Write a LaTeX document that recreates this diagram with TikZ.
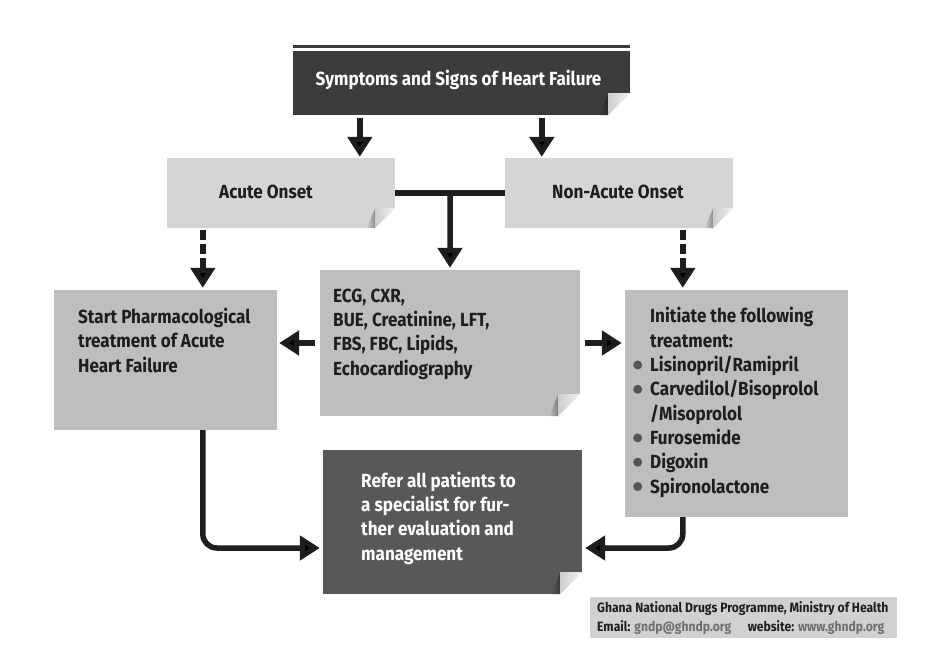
\documentclass[tikz,border=0pt]{standalone}
\usepackage{fontspec}
\setmainfont{Fira Sans}[FakeStretch=0.9]
\usetikzlibrary{arrows.meta, calc}
\definecolor{titlegray}{RGB}{60, 60, 60}
\definecolor{onsetgray}{RGB}{213, 213, 214}
\definecolor{boxgray}{RGB}{190, 190, 191}
\definecolor{refergray}{RGB}{88, 88, 90}
\definecolor{footgray}{RGB}{209, 209, 209}
\definecolor{inkblack}{RGB}{30, 30, 30}
\definecolor{mailgray}{RGB}{110, 110, 110}
\definecolor{dotgray}{RGB}{85, 85, 85}
\definecolor{curllight}{RGB}{242, 242, 242}
\definecolor{curlmid}{RGB}{205, 205, 205}

% folded corner at the bottom right of a box
\newcommand{\pagecurl}[3]{%
  \fill[white] ([xshift=-#2]#1.south east) rectangle ([yshift=#2]#1.south east);
  \shade[left color=#3, right color=#3!65!black]
    ([xshift=-#2-9pt]#1.south east) -- ([xshift=-#2,yshift=#2]#1.south east) -- ([xshift=-#2]#1.south east) -- cycle;
  \shade[left color=curlmid, right color=curllight]
    ([xshift=-#2,yshift=#2]#1.south east) -- ([yshift=#2]#1.south east) -- ([xshift=-#2]#1.south east) -- cycle;
}
\newcommand{\pill}{\llap{\tikz[baseline=-6.5pt]\fill[dotgray] (0,0) circle (4.5pt);\hspace{8pt}}}

\tikzset{
  card/.style={inner sep=0pt, fill=#1},
  txt/.style={font=\bfseries\fontsize{19}{24.3}\selectfont, text=inkblack, align=left, inner sep=0pt},
  whitetxt/.style={txt, text=white},
  flow/.style={line width=5.5pt, draw=inkblack, -{Triangle[width=24pt,length=20pt]}},
  dashflow/.style={flow, dash pattern=on 10pt off 4pt},
  bar/.style={line width=5.5pt, draw=inkblack}
}

\begin{document}
\begin{tikzpicture}[x=1pt, y=-1pt]
  \useasboundingbox (0,0) rectangle (941,666);

  % Title
  \node[card=titlegray, minimum width=337pt, minimum height=64pt] (symptoms) at (461.5,83) {};
  \draw[titlegray, line width=2.5pt] ([yshift=4.5pt]symptoms.north west) -- ([yshift=4.5pt]symptoms.north east);
  \pagecurl{symptoms}{22pt}{titlegray}
  \node[whitetxt, anchor=base] (symptoms-t) at (458.5,86) {Symptoms and Signs of Heart Failure};

  % Onset
  \node[card=onsetgray, minimum width=228pt, minimum height=70pt] (acute) at (281,193) {};
  \pagecurl{acute}{20pt}{onsetgray}
  \node[txt, anchor=base] (acute-t) at (266,198) {Acute Onset};

  \node[card=onsetgray, minimum width=228pt, minimum height=70pt] (nonacute) at (619,193) {};
  \pagecurl{nonacute}{20pt}{onsetgray}
  \node[txt, anchor=base] (nonacute-t) at (618,198) {Non-Acute Onset};

  % Investigations
  \node[card=boxgray, minimum width=260pt, minimum height=146pt] (tests) at (450,343) {};
  \pagecurl{tests}{22pt}{boxgray}
  \node[txt, anchor=base west] (tests-t) at (333,375) {ECG, CXR,\\BUE, Creatinine, LFT,\\FBS, FBC, Lipids,\\Echocardiography};

  % Treatment
  \node[card=boxgray, minimum width=223pt, minimum height=140pt] (pharma) at (165.5,360) {};
  \node[txt, anchor=base west] (pharma-t) at (78,372) {Start Pharmacological\\treatment of Acute\\Heart Failure};

  \node[card=boxgray, minimum width=223pt, minimum height=227pt] (initiate) at (736.5,403.5) {};
  \node[txt, anchor=base west] (initiate-t) at (650,493) {Initiate the following\\treatment:\\
    \pill Lisinopril/Ramipril\\\pill Carvedilol/Bisoprolol\\/Misoprolol\\
    \pill Furosemide\\\pill Digoxin\\\pill Spironolactone};

  % Referral
  \node[card=refergray, minimum width=259pt, minimum height=144pt] (refer) at (452.5,522) {};
  \pagecurl{refer}{22pt}{refergray}
  \node[whitetxt, anchor=base west] (refer-t) at (361,560) {Refer all patients to\\a specialist for fur-\\ther evaluation and\\management};

  % Credit
  \node[card=footgray, minimum width=307pt, minimum height=41pt] (credit) at (743.5,617.5) {};
  \node[txt, font=\bfseries\fontsize{13.5}{19}\selectfont, anchor=base west] (credit-t) at (597,631)
    {Ghana National Drugs Programme, Ministry of Health\\
     Email: \textcolor{mailgray}{gndp@ghndp.org}\quad\ website: \textcolor{mailgray}{www.ghndp.org}};

  % Connectors
  \draw[flow, shorten <=3pt, shorten >=1pt] ([xshift=67pt]symptoms.south west) -- ([xshift=193pt]acute.north west);
  \draw[flow, shorten <=3pt, shorten >=1pt] ([xshift=249pt]symptoms.south west) -- ([xshift=37pt]nonacute.north west);
  \draw[bar] (acute.east) -- (nonacute.west);
  \draw[flow, shorten >=2pt] ($(acute.east)!0.5!(nonacute.west)$) -- (tests.north);
  \draw[dashflow, shorten <=2pt, shorten >=2pt] ([xshift=36pt]acute.south west) -- ([xshift=149pt]pharma.north west);
  \draw[dashflow, shorten <=2pt, shorten >=2pt] ([xshift=178pt]nonacute.south west) -- ([xshift=58pt]initiate.north west);
  \draw[flow, shorten <=5pt, shorten >=2pt] (tests.west) -- (tests.west -| pharma.east);
  \draw[flow, shorten <=5pt, shorten >=3pt] (tests.east) -- (tests.east -| initiate.west);
  \draw[flow, rounded corners=14pt, shorten >=3pt] ([xshift=149pt]pharma.south west) |- ([yshift=-26pt]refer.west);
  \draw[flow, rounded corners=14pt, shorten >=3pt] ([xshift=58pt]initiate.south west) |- ([yshift=-26pt]refer.east);
\end{tikzpicture}
\end{document}
